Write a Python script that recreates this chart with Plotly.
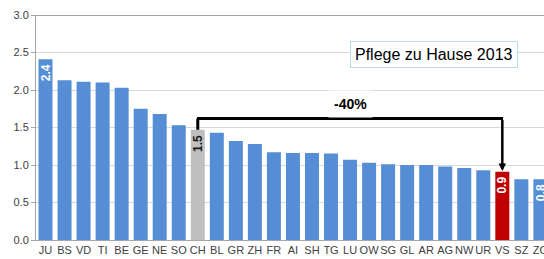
import plotly.graph_objects as go

categories = ["JU", "BS", "VD", "TI", "BE", "GE", "NE", "SO", "CH", "BL", "GR", "ZH", "FR",
              "AI", "SH", "TG", "LU", "OW", "SG", "GL", "AR", "AG", "NW", "UR", "VS", "SZ", "ZG"]
values = [2.41, 2.13, 2.11, 2.10, 2.03, 1.75, 1.68, 1.53, 1.47, 1.43, 1.32, 1.28, 1.17,
          1.16, 1.16, 1.155, 1.07, 1.03, 1.01, 1.00, 1.00, 0.98, 0.96, 0.93, 0.91, 0.81, 0.81]
labelled = ["JU", "CH", "VS", "ZG"]
y_ticks = [0.0, 0.5, 1.0, 1.5, 2.0, 2.5, 3.0]
title_text = "Pflege zu Hause 2013"
diff_text = "-40%"

BLUE = "#558ED5"
GREY = "#BFBFBF"
RED = "#C00000"
FONT = "Liberation Sans, Arial"

colors = []
for c in categories:
    if c == "CH":
        colors.append(GREY)
    elif c == "VS":
        colors.append(RED)
    else:
        colors.append(BLUE)

fig = go.Figure()
fig.add_trace(go.Bar(
    x=list(range(len(categories))), y=values,
    marker=dict(color=colors, line=dict(width=0)),
    hoverinfo="skip",
))

# value labels inside the top of selected bars, rotated
for i, (c, v) in enumerate(zip(categories, values)):
    if c in labelled:
        fig.add_annotation(
            x=i, y=v, xref="x", yref="y", text="<b>%.1f</b>" % v,
            textangle=-90, showarrow=False, yanchor="top", xanchor="center", yshift=-3,
            font=dict(family=FONT, size=12, color="#1a1a1a" if c == "CH" else "white"),
        )

i_ch = categories.index("CH")
i_vs = categories.index("VS")
bracket_y = 1.62

fig.add_shape(type="line", xref="x", yref="y", x0=i_ch, x1=i_ch,
              y0=values[i_ch], y1=bracket_y, line=dict(color="black", width=3), layer="above")
fig.add_shape(type="line", xref="x", yref="y", x0=i_ch - 0.04, x1=i_vs + 0.04,
              y0=bracket_y, y1=bracket_y, line=dict(color="black", width=3), layer="above")
fig.add_annotation(x=i_vs, y=values[i_vs] + 0.01, xref="x", yref="y",
                   ax=i_vs, ay=bracket_y, axref="x", ayref="y",
                   showarrow=True, arrowhead=2, arrowsize=0.6, arrowwidth=2.5,
                   arrowcolor="black", text="")

fig.add_annotation(x=(i_ch + i_vs) / 2, y=1.82, xref="x", yref="y",
                   text="<b>" + diff_text + "</b>", showarrow=False,
                   font=dict(family=FONT, size=14, color="black"),
                   bgcolor="white", borderpad=5)

fig.add_annotation(x=(434 - 36) / (544 - 36), y=(240 - 54) / (240 - 15),
                   xref="paper", yref="paper", xanchor="center", yanchor="middle",
                   text=title_text,
                   showarrow=False, font=dict(family=FONT, size=16, color="black"),
                   bgcolor="white", bordercolor="#B7DEE8", borderwidth=1, borderpad=4)

fig.update_layout(
    width=544, height=259,
    margin=dict(l=36, r=0, t=15, b=19),
    paper_bgcolor="white", plot_bgcolor="white",
    showlegend=False, bargap=0.265,
    font=dict(family=FONT, size=11, color="#404040"),
)
fig.update_xaxes(
    range=[-0.5, 26.19], automargin=False,
    tickmode="array", tickvals=list(range(len(categories))), ticktext=categories,
    tickangle=0, ticklabeloverflow="allow",
    showgrid=False, showline=True, linecolor="#A6A6A6", linewidth=1,
    ticks="", tickfont=dict(size=11, color="#404040"), fixedrange=True,
)
fig.update_yaxes(
    range=[0, 3.0], automargin=False, tickmode="array", tickvals=y_ticks,
    ticktext=[f"{t:.1f}" for t in y_ticks],
    showgrid=True, gridcolor="#D9D9D9", gridwidth=1,
    showline=True, linecolor="#A6A6A6", linewidth=1,
    ticks="outside", ticklen=4, tickcolor="#A6A6A6",
    tickfont=dict(size=11, color="#404040"), zeroline=False,
)
fig.add_shape(type="line", xref="paper", yref="y", x0=0, x1=1, y0=3.0, y1=3.0,
              line=dict(color="#808080", width=1.5), layer="above")

fig.write_html("out.html", config={"displayModeBar": False},
               post_script="document.body.style.margin='0';document.body.style.overflow='hidden';")
